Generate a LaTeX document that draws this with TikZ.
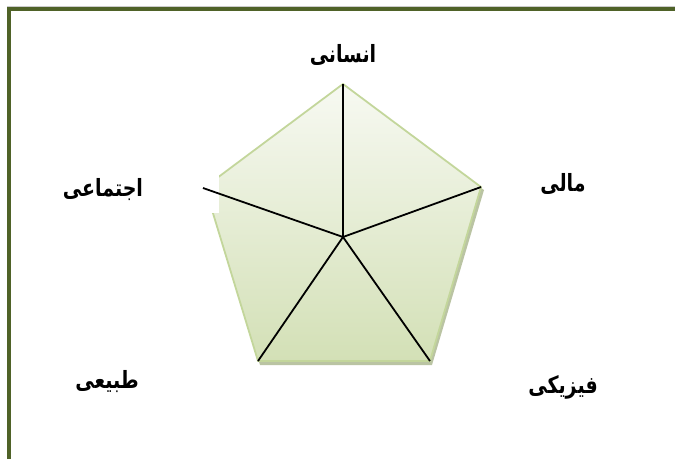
\documentclass[tikz,border=0pt]{standalone}
\usepackage{fontspec}
\usepackage{graphicx}
\usetikzlibrary{calc}
\newfontfamily\arabicbold[Script=Arabic]{DejaVu Sans Bold}
\TeXXeTstate=1
\newcommand{\farsilabel}[1]{\scalebox{1}[1.25]{\beginR #1\endR}}
\definecolor{frameolive}{HTML}{4F6228}
\definecolor{pentborder}{HTML}{C3D69B}
\definecolor{penttop}{HTML}{F7F9F2}
\definecolor{pentbottom}{HTML}{D3E0B6}
\definecolor{pentshadow}{HTML}{A9B58C}
\tikzset{
  lbl/.style={font=\arabicbold\fontsize{19}{22}\selectfont, inner sep=0pt, text=black},
  spoke/.style={draw=black, line width=1.8pt},
  framerule/.style={draw=frameolive, line width=3.5pt}
}
\begin{document}
\begin{tikzpicture}[x=1pt,y=-1pt]
\useasboundingbox (0,0) rectangle (675,459);
% frame
\draw[gray!40, line width=0.6pt] (7,6.2) -- (675,6.2);
\draw[framerule] (9,459) -- (9,9) -- (675,9);
% pentagon vertices
\coordinate (A) at (343,84);
\coordinate (B) at (481,187);
\coordinate (C) at (430,361);
\coordinate (D) at (258,361);
\coordinate (E) at (205,187);
\coordinate (O) at (343,237);
\coordinate (Eend) at (203,188);
% shadow
\fill[pentshadow, opacity=0.8] ($(A)+(2,3)$) -- ($(B)+(3,3)$) -- ($(C)+(2,4)$) -- ($(D)+(2,4)$) -- ($(E)+(2,3)$) -- cycle;
% pentagon
\shade[top color=penttop, bottom color=pentbottom] (A) -- (B) -- (C) -- (D) -- (E) -- cycle;
\draw[pentborder, line width=1.8pt, line join=miter] (A) -- (B) -- (C) -- (D) -- (E) -- cycle;
% white text-box mask
\fill[white] (150,150) rectangle (219,213);
% spokes
\draw[spoke] (O) -- (A);
\draw[spoke] (O) -- (B);
\draw[spoke] (O) -- (C);
\draw[spoke] (O) -- (D);
\draw[spoke] (O) -- (Eend);
% labels
\node[lbl] (ensani) at (343,55) {\farsilabel{انسانی}};
\node[lbl] (mali) at (563,184) {\farsilabel{مالی}};
\node[lbl] (ejtemai) at (103,190) {\farsilabel{اجتماعی}};
\node[lbl] (tabiei) at (107,382) {\farsilabel{طبیعی}};
\node[lbl] (fiziki) at (563,387) {\farsilabel{فیزیکی}};
\end{tikzpicture}
\end{document}
